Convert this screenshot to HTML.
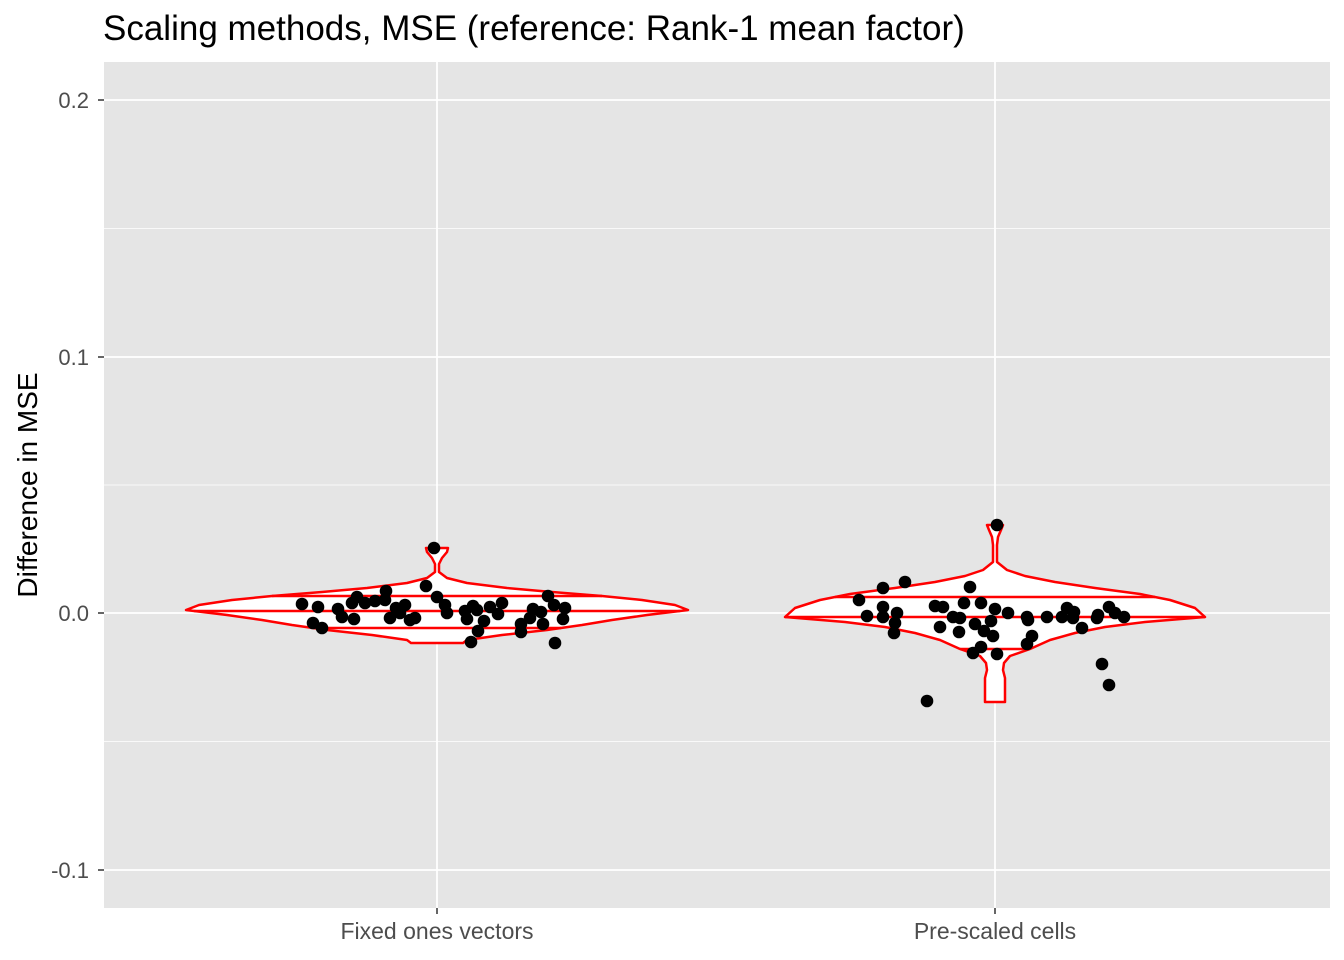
<!DOCTYPE html>
<html><head><style>body{margin:0;background:#fff}svg{display:block}</style></head><body>
<svg id="s" width="1344" height="960" xmlns="http://www.w3.org/2000/svg" font-family="Liberation Sans, sans-serif">
<rect width="1344" height="960" fill="#fff"/>
<rect x="104" y="62" width="1226" height="846" fill="#e5e5e5"/>
<g stroke="#fff">
<line x1="104" x2="1330" y1="228.5" y2="228.5" stroke-width="0.8"/>
<line x1="104" x2="1330" y1="485" y2="485" stroke-width="0.8"/>
<line x1="104" x2="1330" y1="741.5" y2="741.5" stroke-width="0.8"/>
<line x1="104" x2="1330" y1="100" y2="100" stroke-width="1.8"/>
<line x1="104" x2="1330" y1="357" y2="357" stroke-width="1.8"/>
<line x1="104" x2="1330" y1="613" y2="613" stroke-width="1.8"/>
<line x1="104" x2="1330" y1="870" y2="870" stroke-width="1.8"/>
<line x1="437" x2="437" y1="62" y2="908" stroke-width="1.8"/>
<line x1="995" x2="995" y1="62" y2="908" stroke-width="1.8"/>
</g>
<g stroke="#333" stroke-width="1.5">
<line x1="98" x2="104" y1="100" y2="100"/><line x1="98" x2="104" y1="357" y2="357"/>
<line x1="98" x2="104" y1="613" y2="613"/><line x1="98" x2="104" y1="870" y2="870"/>
<line x1="437" x2="437" y1="908" y2="914"/><line x1="995" x2="995" y1="908" y2="914"/>
</g>
<g fill="#4d4d4d" font-size="22" text-anchor="end">
<text x="89" y="108">0.2</text><text x="89" y="365">0.1</text><text x="89" y="621">0.0</text><text x="89" y="878">-0.1</text>
</g>
<g fill="#4d4d4d" font-size="23" text-anchor="middle">
<text x="437" y="939">Fixed ones vectors</text><text x="995" y="939">Pre-scaled cells</text>
</g>
<text x="37" y="485" font-size="28" text-anchor="middle" transform="rotate(-90 37 485)" fill="#000">Difference in MSE</text>
<text x="103" y="40" font-size="35" fill="#000">Scaling methods, MSE (reference: Rank-1 mean factor)</text>
<g id="v"></g>
<g id="p" fill="#000"></g>
</svg>
<script>
const NS="http://www.w3.org/2000/svg";
function interp(prof,y){for(let i=0;i<prof.length-1;i++){const a=prof[i],b=prof[i+1];if(y>=a[0]&&y<=b[0]){return a[1]+(b[1]-a[1])*(y-a[0])/(b[0]-a[0]);}}return 0;}
function violin(cx,prof,qs){
 const g=document.getElementById('v');
 let r=prof.map(p=>[cx+p[1],p[0]]), l=prof.slice().reverse().map(p=>[cx-p[1],p[0]]);
 const pts=r.concat(l);
 const path=document.createElementNS(NS,'path');
 path.setAttribute('d','M'+pts.map(p=>p[0].toFixed(1)+','+p[1].toFixed(1)).join('L')+'Z');
 path.setAttribute('fill','#fff');path.setAttribute('stroke','red');path.setAttribute('stroke-width','2.5');path.setAttribute('stroke-linejoin','round');
 g.appendChild(path);
 qs.forEach(y=>{const w=interp(prof,y);const ln=document.createElementNS(NS,'line');
  ln.setAttribute('x1',cx-w);ln.setAttribute('x2',cx+w);ln.setAttribute('y1',y);ln.setAttribute('y2',y);
  ln.setAttribute('stroke','red');ln.setAttribute('stroke-width','2.5');g.appendChild(ln);});
}
violin(437,[[548,11],[552,10],[558,5],[564,2],[572,2],[578,10],[583,30],[588,70],[592,115],[596,165],[600,205],[605,238],[610,251],[615,210],[620,175],[625,145],[630,110],[635,65],[640,30],[643,26],[643.01,0]],[596,611,628]);
violin(995,[[525,8],[530,6],[537,3],[545,2],[562,2],[570,12],[576,30],[582,60],[588,100],[594,145],[600,175],[608,200],[617,210],[622,150],[627,110],[633,80],[640,55],[649,35],[656,15],[663,9],[670,8],[678,10],[702,10],[702.01,0]],[597,617,649]);
const pts=[[434,548],[426,586],[437,597],[386,591],[385,600],[357,597],[352,603],[365,603],[375,601],[302,604],[318,607],[338,609],[342,617],[354,619],[313,623],[322,628],[396,608],[405,605],[400,613],[390,618],[410,620],[415,618],[445,605],[447,613],[465,611],[473,606],[477,610],[467,619],[484,621],[478,631],[471,642],[490,607],[502,603],[498,614],[533,609],[541,612],[530,618],[521,624],[521,632],[543,624],[548,596],[554,605],[565,608],[563,619],[555,643],
[997,525],[970,587],[905,582],[883,588],[859,600],[867,616],[883,607],[883,617],[897,613],[895,623],[894,633],[935,606],[943,607],[940,627],[953,617],[960,618],[959,632],[964,603],[975,624],[981,603],[995,609],[991,621],[984,631],[993,636],[981,647],[973,653],[997,654],[1008,613],[1027,617],[1028,620],[1032,636],[1027,644],[1047,617],[1062,617],[1067,608],[1074,612],[1073,618],[1082,628],[1097,618],[1098,615],[1109,607],[1115,613],[1124,617],[1102,664],[1109,685],[927,701]];
const pg=document.getElementById('p');
pts.forEach(p=>{const c=document.createElementNS(NS,'circle');c.setAttribute('cx',p[0]);c.setAttribute('cy',p[1]);c.setAttribute('r','6.3');pg.appendChild(c);});
</script>
</body></html>
